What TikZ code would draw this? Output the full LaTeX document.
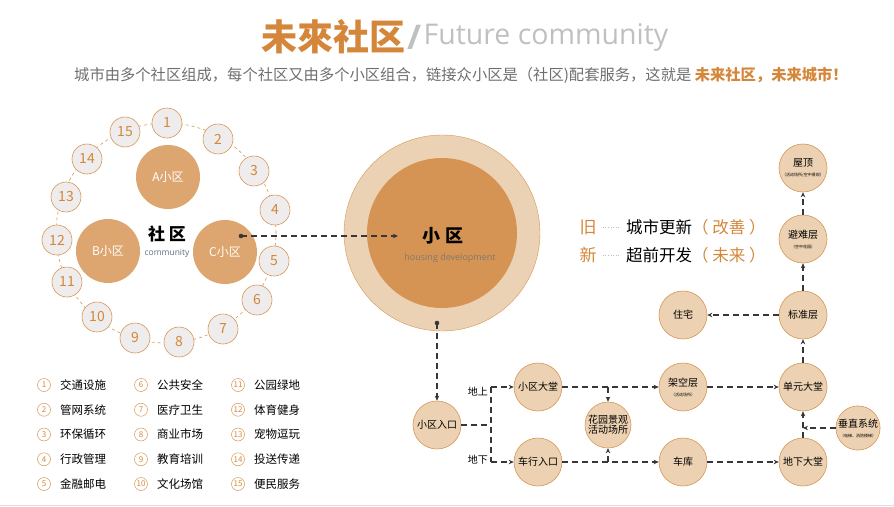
\documentclass[tikz,border=0pt]{standalone}
\usepackage{fontspec}
\setmainfont{Noto Sans CJK SC}
\newfontfamily\latinf{Open Sans}
\usepackage{xcolor}
\usetikzlibrary{positioning,arrows.meta,calc}
\definecolor{orangeT}{RGB}{212,135,58}
\definecolor{peach}{RGB}{236,210,178}
\definecolor{lineor}{RGB}{214,150,85}
\definecolor{bigouter}{RGB}{236,210,180}
\definecolor{biginner}{RGB}{214,148,84}
\definecolor{commfill}{RGB}{221,166,112}
\definecolor{numgray}{RGB}{238,236,236}
\definecolor{darkline}{RGB}{55,55,55}
\definecolor{subgray}{RGB}{110,110,110}
\definecolor{lightgray}{RGB}{192,192,192}
\newcommand\notetxt{\fontsize{4}{5}\selectfont}

\begin{document}
\begin{tikzpicture}[x=1pt,y=-1pt,
  unit/.style={circle,draw=lineor,fill=peach,line width=0.6pt,minimum size=48pt,
               inner sep=0pt,align=center,font=\fontsize{10}{12}\selectfont},
  numc/.style={circle,draw=lineor,fill=numgray,line width=0.6pt,minimum size=30pt,
               inner sep=0pt,text=orangeT,font=\fontsize{14}{14}\selectfont},
  subq/.style={circle,fill=commfill,minimum size=64pt,inner sep=0pt,text=white,
               font=\fontsize{12}{12}\selectfont},
  arr/.style={dash pattern=on 6pt off 4pt,line width=1.1pt,darkline,
              -{Stealth[length=5pt,width=4.5pt]}},
  ln/.style={dash pattern=on 6pt off 4pt,line width=1.1pt,darkline},
]
\useasboundingbox (0,0) rectangle (894,506);
% title
\node[anchor=east,inner sep=0pt,text=orangeT,font=\fontsize{36}{36}\selectfont\bfseries] (ttl) at (406,37) {未來社区};
\node[right=1pt of ttl,inner sep=0pt,text=lightgray,font=\latinf\fontsize{34}{34}\selectfont\bfseries] (sl) {/};
\node[right=2pt of sl,inner sep=0pt,text=lightgray,font=\latinf\fontsize{28.5}{29}\selectfont] (fut) {Future community};
\node[anchor=west,inner sep=0pt,text=subgray,font=\fontsize{15.3}{16}\selectfont] (subt) at (74,75)
  {城市由多个社区组成，每个社区又由多个小区组合，链接众小区是（社区)配套服务，这就是 \textcolor{orangeT}{\bfseries 未来社区，未来城市！}};

% community ring
\draw[lineor,dash pattern=on 3pt off 3pt,line width=0.6pt] (166,233) circle (110pt);
\foreach \n/\px/\py in {1/167/123,2/218/139,3/254/171,4/275/210,5/274/261,6/257/300,7/223/329,
    8/179/342,9/135/338,10/97/317,11/67/282,12/57/240,13/66/197,14/87/159,15/125/132}
  \node[numc] (n\n) at (\px,\py) {\n};
\node[subq] (qa) at (168,177) {A小区};
\node[subq] (qb) at (108,251) {B小区};
\node[subq] (qc) at (225,252) {C小区};
\node[font=\fontsize{17}{17}\selectfont\bfseries,inner sep=0pt] (sq) at (167,234) {社 区};
\node[below=7pt of sq,inner sep=0pt,text={rgb,255:red,95;green,110;blue,135},font=\latinf\fontsize{8.5}{9}\selectfont] (sqe) {community};

% housing development
\node[circle,draw=lineor,fill=bigouter,minimum size=196pt,inner sep=0pt] (xq) at (442,233) {};
\node[circle,fill=biginner,minimum size=150pt,inner sep=0pt] (xqi) at (442,233) {};
\node[font=\fontsize{18}{18}\selectfont\bfseries,inner sep=0pt] (xqt) at (443,236) {小 区};
\node[below=9pt of xqt.south,xshift=7pt,inner sep=0pt,text={rgb,255:red,128;green,120;blue,110},font=\latinf\fontsize{9}{9}\selectfont] (xqe) {housing development};
\coordinate (cdot) at (241,236);
\coordinate (xqin) at (398,236);
\fill[darkline] (cdot) circle (2.3pt);
\draw[arr] (cdot) -- (xqin);

% old / new
\node[text=orangeT,font=\fontsize{17}{17}\selectfont,inner sep=0pt] (jiu) at (588,227) {旧};
\node[text=orangeT,font=\fontsize{17}{17}\selectfont,inner sep=0pt] (xin) at (588,255) {新};
\node[anchor=west,inner sep=0pt,font=\fontsize{16.5}{17}\selectfont] (jiut) at (626,227) {城市更新\textcolor{orangeT}{（ 改善 ）}};
\node[anchor=west,inner sep=0pt,font=\fontsize{16.5}{17}\selectfont] (xint) at (626,255) {超前开发\textcolor{orangeT}{（ 未来 ）}};
\draw[lightgray,dotted,line width=0.6pt] ($(jiu.east)+(6pt,0)$) -- ($(jiut.west)+(-6pt,0)$);
\draw[lightgray,dotted,line width=0.6pt] ($(xin.east)+(6pt,0)$) -- ($(xint.west)+(-6pt,0)$);

% building nodes
\node[unit] (wd) at (803,168) {屋顶\\[-2pt]\notetxt（活动场所/空中景观）};
\node[unit] (bn) at (803,239) {避难层\\[-2pt]\notetxt（空中花园）};
\node[unit] (bz) at (803,315) {标准层};
\node[unit] (zz) at (683,315) {住宅};
\node[unit] (rk) at (437,425) {小区入口};
\node[unit] (dt) at (538,387) {小区大堂};
\node[unit] (cx) at (538,462) {车行入口};
\node[unit,minimum size=46pt] (hy) at (608,425) {花园景观\\[-2pt]活动场所};
\node[unit] (jk) at (683,387) {架空层\\[-2pt]\notetxt（活动场所）};
\node[unit] (ck) at (683,462) {车库};
\node[unit] (dy) at (803,387) {单元大堂};
\node[unit] (dx) at (803,462) {地下大堂};
\node[unit,minimum size=43pt] (cz) at (858,428) {垂直系统\\[-2pt]\notetxt（电梯、消防楼梯）};

% connectors
\coordinate (xqdot) at (437,323);
\fill[darkline] (xqdot) circle (2.3pt);
\draw[arr] (xqdot) -- (rk);
\coordinate (jn) at (491,425);
\coordinate (jup) at (491,387);
\coordinate (jdn) at (491,462);
\draw[ln] (rk) -- (jn);
\draw[ln] (jup) -- (jdn);
\draw[arr] (jup) -- (dt);
\draw[arr] (jdn) -- (cx);
\node[anchor=east,inner sep=1pt,font=\fontsize{10}{10}\selectfont] (dsh) at (489,392) {地上};
\node[anchor=east,inner sep=1pt,font=\fontsize{10}{10}\selectfont] (dxi) at (489,460) {地下};
\draw[arr] (dt) -- (jk);
\draw[arr] (cx) -- (ck);
\draw[arr] (hy |- dt) -- (hy);
\draw[arr] (hy |- cx) -- (hy);
\draw[arr] (jk) -- (dy);
\draw[arr] (ck) -- (dx);
\draw[arr] (dx) -- (dy);
\draw[arr] (cz) -- (dx |- cz);
\draw[arr] (dy) -- (bz);
\draw[arr] (bz) -- (bn);
\draw[arr] (bn) -- (wd);
\draw[arr] (bz) -- (zz);

% legend
\foreach \n/\t in {1/交通设施,2/管网系统,3/环保循环,4/行政管理,5/金融邮电,6/公共安全,7/医疗卫生,
    8/商业市场,9/教育培训,10/文化场馆,11/公园绿地,12/体育健身,13/宠物逗玩,14/投送传递,15/便民服务} {
  \pgfmathsetmacro\xx{44+97*int((\n-1)/5)}
  \pgfmathsetmacro\yy{385+24.75*mod(\n-1,5)}
  \node[circle,draw=lineor,line width=0.5pt,minimum size=13pt,inner sep=0pt,text=orangeT,
        font=\fontsize{8}{8}\selectfont] (lg\n) at (\xx,\yy) {\n};
  \node[anchor=west,inner sep=0pt,font=\fontsize{11.5}{12}\selectfont] (lt\n) at (\xx+16,\yy) {\t};
}
\draw[gray!25,line width=1pt] (0,505) -- (894,505);
\end{tikzpicture}
\end{document}
